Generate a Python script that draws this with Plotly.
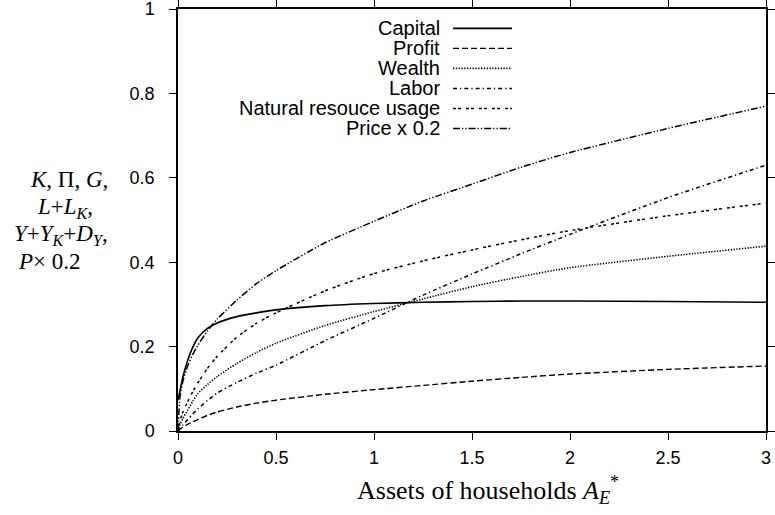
import plotly.graph_objects as go

# ---- data ----
assets = [0, 0.01, 0.025, 0.05, 0.075, 0.1, 0.15, 0.2, 0.3, 0.4, 0.5, 0.75,
          1, 1.25, 1.5, 1.75, 2, 2.5, 3]

capital = [0.073, 0.095, 0.128, 0.168, 0.198, 0.220, 0.243, 0.256, 0.271, 0.280,
           0.287, 0.297, 0.302, 0.305, 0.307, 0.308, 0.308, 0.307, 0.305]
profit = [0, 0.004, 0.009, 0.016, 0.022, 0.027, 0.037, 0.045, 0.057, 0.066,
          0.073, 0.087, 0.098, 0.108, 0.118, 0.127, 0.135, 0.146, 0.154]
wealth = [0, 0.015, 0.030, 0.050, 0.070, 0.088, 0.110, 0.129, 0.160, 0.186,
          0.208, 0.250, 0.283, 0.313, 0.342, 0.366, 0.387, 0.414, 0.438]
labor = [0, 0.006, 0.014, 0.027, 0.040, 0.052, 0.072, 0.090, 0.115, 0.137,
         0.156, 0.214, 0.267, 0.322, 0.372, 0.420, 0.466, 0.553, 0.630]
natural = [0, 0.025, 0.045, 0.070, 0.093, 0.113, 0.148, 0.177, 0.222, 0.255,
           0.280, 0.332, 0.373, 0.403, 0.429, 0.453, 0.475, 0.510, 0.540]
price = [0, 0.080, 0.118, 0.155, 0.181, 0.202, 0.237, 0.265, 0.310, 0.349,
         0.380, 0.446, 0.497, 0.545, 0.585, 0.625, 0.660, 0.717, 0.770]

names = ["Capital", "Profit", "Wealth", "Labor", "Natural resouce usage", "Price x 0.2"]
series = [capital, profit, wealth, labor, natural, price]
dashes = ["solid", "6px,3px", "1.3px,1.5px", "4px,3px,1.3px,3px",
          "3px,2px,3px,5px", "7px,2px,1.3px,2px,1.3px,2px"]
widths = [1.6, 1.4, 1.6, 1.5, 1.5, 1.5]

x_ticks = [0, 0.5, 1, 1.5, 2, 2.5, 3]
y_ticks = [0, 0.2, 0.4, 0.6, 0.8, 1]

y_title_lines = ["<i>K</i>, Π, <i>G</i>,",
                 "<i>L</i>+<i>L<sub>K</sub></i>,",
                 "<i>Y</i>+<i>Y<sub>K</sub></i>+<i>D<sub>Y</sub></i>,",
                 "<i>P</i>× 0.2"]

fig = go.Figure()
for name, ys, d, w in zip(names, series, dashes, widths):
    fig.add_trace(go.Scatter(x=assets, y=ys, mode="lines", name=name,
                             line=dict(color="black", width=w, dash=d,
                                       shape="spline", smoothing=0.6),
                             showlegend=False))

# gnuplot-style key: text right-aligned, sample line to the right
shapes = []
annotations = []
row0 = 0.954
step = 0.0474
for i, (name, d, w) in enumerate(zip(names, dashes, widths)):
    yy = row0 - i * step
    annotations.append(dict(x=0.4485, y=yy, xref="paper", yref="paper",
                            text=name, showarrow=False, xanchor="right",
                            yanchor="middle",
                            font=dict(family="Liberation Sans, Arial", size=20,
                                      color="black")))
    shapes.append(dict(type="line", xref="paper", yref="paper",
                       x0=0.4677, x1=0.568, y0=yy, y1=yy,
                       line=dict(color="black", width=w, dash=d)))

# multi-line y title, one annotation per line
title_x = [-0.1854, -0.1922, -0.199, -0.2185]
title_y = [0.5948, 0.5284, 0.4645, 0.4005]
for txt, tx, ty in zip(y_title_lines, title_x, title_y):
    annotations.append(dict(
        x=tx, y=ty, xref="paper", yref="paper", showarrow=False,
        xanchor="center", yanchor="middle", text=txt,
        font=dict(family="Liberation Serif, Times New Roman", size=23,
                  color="black")))

annotations.append(dict(
    x=0.301, y=-0.14, xref="paper", yref="paper", showarrow=False,
    xanchor="left", yanchor="middle",
    text="Assets of households <i>A<sub>E</sub></i><sup>*</sup>",
    font=dict(family="Liberation Serif, Times New Roman", size=26, color="black")))

axis_common = dict(showline=True, linecolor="black", linewidth=1.5,
                   mirror="allticks", ticks="outside", ticklen=7, tickwidth=1.3,
                   tickcolor="black", showgrid=False, zeroline=False,
                   automargin=False, ticklabeloverflow="allow",
                   tickfont=dict(family="Liberation Sans, Arial", size=18,
                                 color="black"))

fig.update_layout(
    width=775, height=515,
    margin=dict(l=178, r=9, t=9, b=84, autoexpand=False),
    plot_bgcolor="white", paper_bgcolor="white",
    xaxis=dict(range=[0, 3], tickvals=x_ticks, ticklabelstandoff=3,
               ticktext=[f"{v:g}" for v in x_ticks], **axis_common),
    yaxis=dict(range=[0, 1], tickvals=y_ticks, ticklabelstandoff=11,
               ticktext=[f"{v:g}" for v in y_ticks], **axis_common),
    shapes=shapes, annotations=annotations,
)

fig.write_html("out.html", config={"displayModeBar": False},
               post_script="document.body.style.margin='0';")
